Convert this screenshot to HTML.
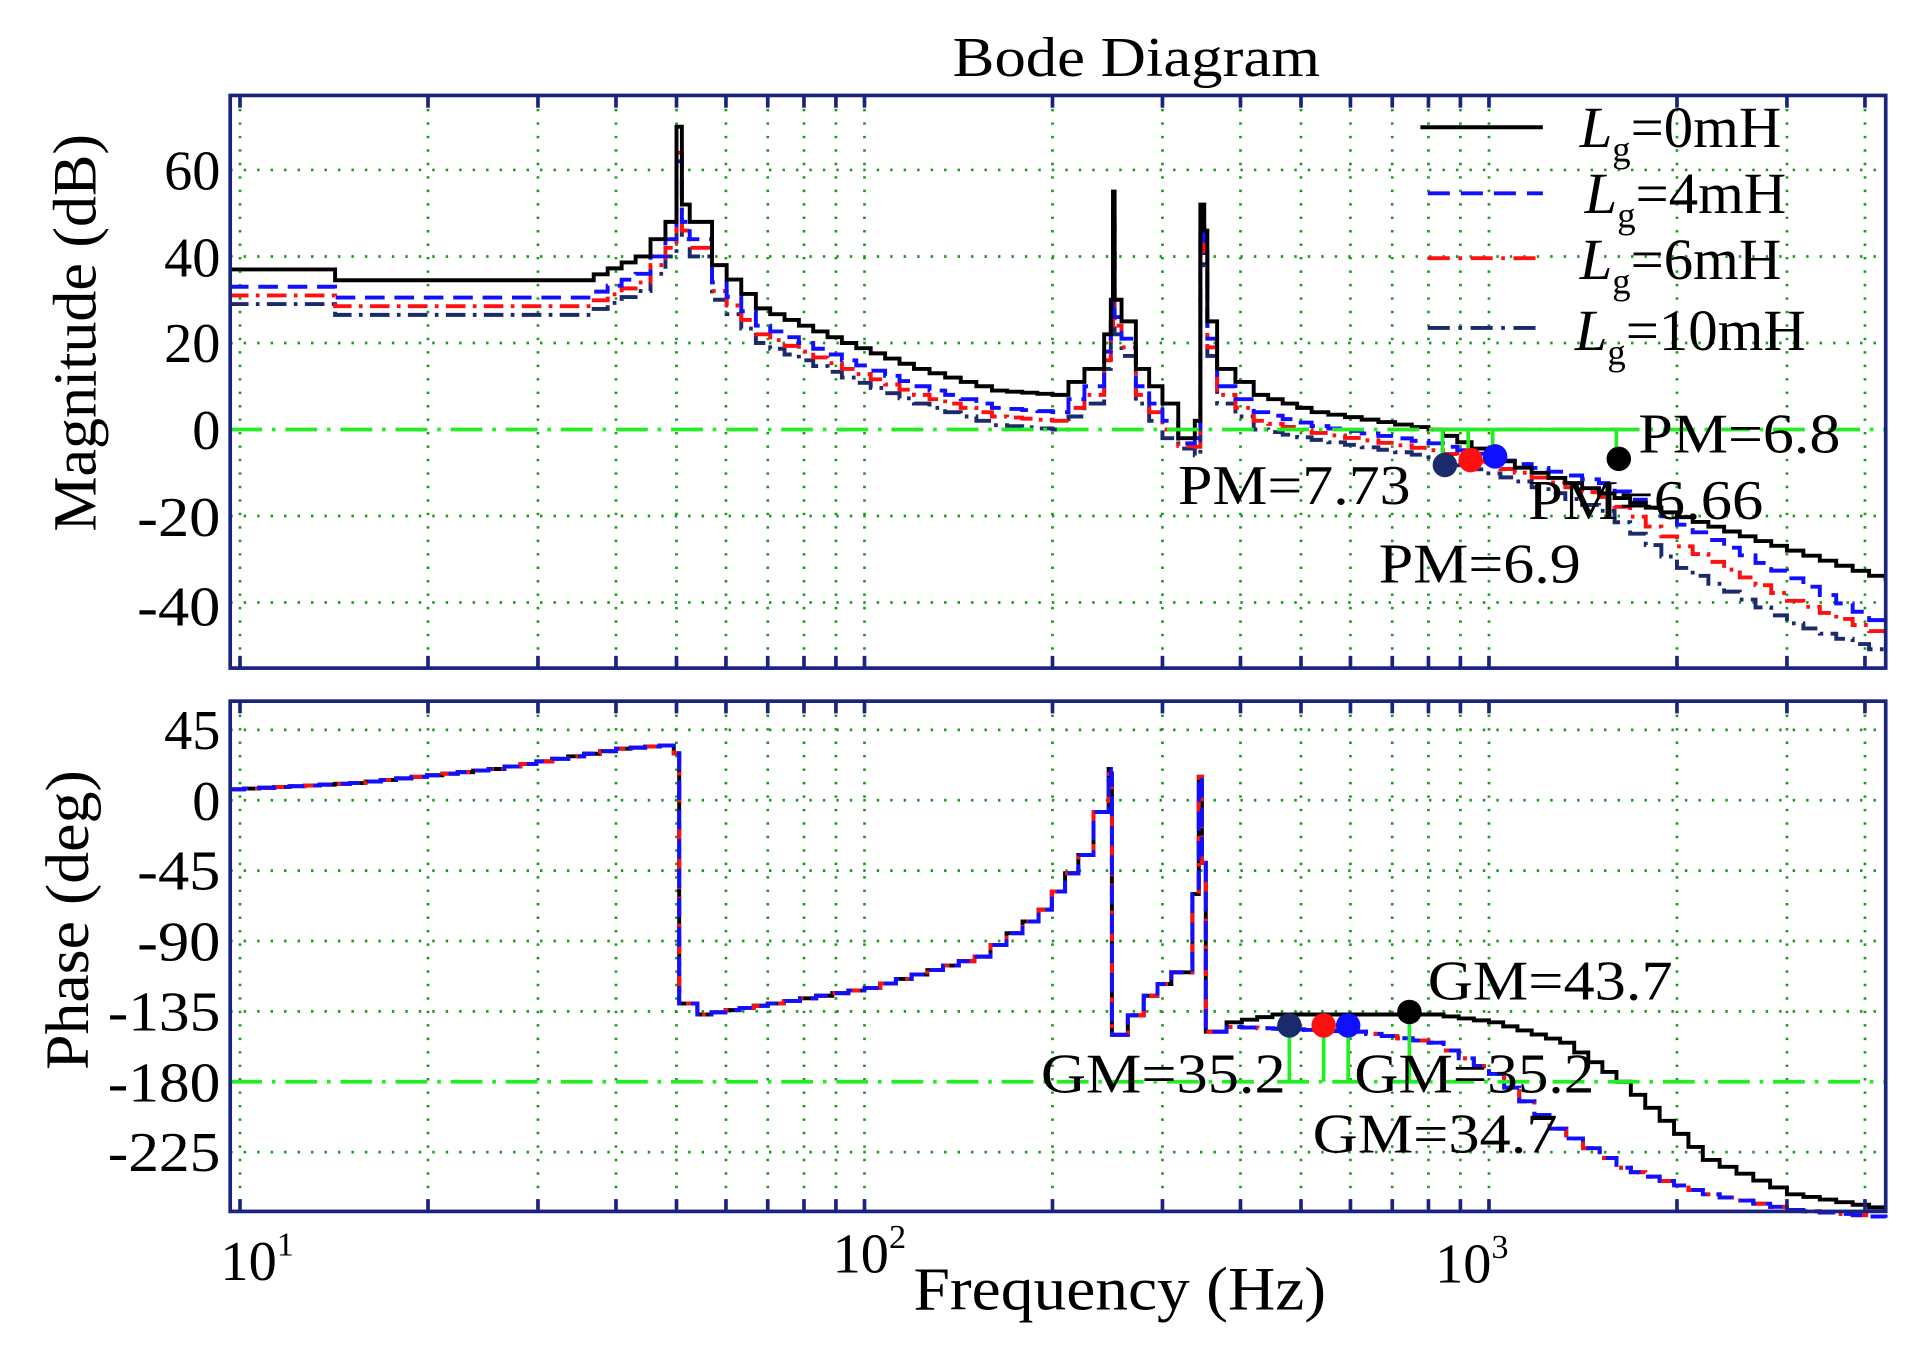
<!DOCTYPE html>
<html><head><meta charset="utf-8"><style>
html,body{margin:0;padding:0;background:#fff;}
svg{display:block;font-family:"Liberation Serif",serif;}
</style></head><body>
<svg id="s" width="1920" height="1346" viewBox="0 0 1568 1100" preserveAspectRatio="none" xmlns="http://www.w3.org/2000/svg">
<rect width="1568" height="1100" fill="#fff"/>
<g id="grid" stroke="#1a9a1a" stroke-width="2.2" stroke-dasharray="2,9"></g>
<g id="curves" fill="none" stroke-width="3.2"></g>
<g id="frame" fill="none" stroke="#1a237e" stroke-width="3"></g>
<text x="778" y="62" font-size="46" textLength="300" lengthAdjust="spacingAndGlyphs">Bode Diagram</text>
<g font-size="46" text-anchor="end">
<text x="180" y="155">60</text><text x="180" y="226">40</text><text x="180" y="296">20</text><text x="180" y="367">0</text><text x="180" y="438" textLength="68" lengthAdjust="spacingAndGlyphs">-20</text><text x="180" y="511" textLength="68" lengthAdjust="spacingAndGlyphs">-40</text>
<text x="180" y="612">45</text><text x="180" y="670">0</text><text x="180" y="727" textLength="68" lengthAdjust="spacingAndGlyphs">-45</text><text x="180" y="785" textLength="68" lengthAdjust="spacingAndGlyphs">-90</text><text x="180" y="842" textLength="92" lengthAdjust="spacingAndGlyphs">-135</text><text x="180" y="900" textLength="92" lengthAdjust="spacingAndGlyphs">-180</text><text x="180" y="957" textLength="92" lengthAdjust="spacingAndGlyphs">-225</text>
</g>
<g font-size="46">
<text x="180" y="1046">10<tspan font-size="28" dy="-20">1</tspan></text>
<text x="680" y="1040">10<tspan font-size="28" dy="-20">2</tspan></text>
<text x="1172" y="1048">10<tspan font-size="28" dy="-20">3</tspan></text>
<text x="746" y="1070" font-size="50" textLength="337" lengthAdjust="spacingAndGlyphs">Frequency  (Hz)</text>
<text transform="translate(78,272) rotate(-90)" text-anchor="middle" font-size="50" textLength="325" lengthAdjust="spacingAndGlyphs">Magnitude (dB)</text>
<text transform="translate(72,752) rotate(-90)" text-anchor="middle" font-size="50" textLength="245" lengthAdjust="spacingAndGlyphs">Phase (deg)</text>
<text x="962" y="412" textLength="190" lengthAdjust="spacingAndGlyphs">PM=7.73</text>
<text x="1338" y="370" textLength="165" lengthAdjust="spacingAndGlyphs">PM=6.8</text>
<text x="1248" y="424" textLength="192" lengthAdjust="spacingAndGlyphs">PM=6.66</text>
<text x="1126" y="476" textLength="165" lengthAdjust="spacingAndGlyphs">PM=6.9</text>
<text x="1166" y="817" textLength="200" lengthAdjust="spacingAndGlyphs">GM=43.7</text>
<text x="850" y="893" textLength="200" lengthAdjust="spacingAndGlyphs">GM=35.2</text>
<text x="1106" y="893" textLength="196" lengthAdjust="spacingAndGlyphs">GM=35.2</text>
<text x="1072" y="942" textLength="200" lengthAdjust="spacingAndGlyphs">GM=34.7</text>
</g>
<g font-size="48">
<text x="1290" y="120"><tspan font-style="italic">L</tspan><tspan font-size="30" dy="12">g</tspan><tspan dy="-12">=0mH</tspan></text>
<text x="1294" y="174"><tspan font-style="italic">L</tspan><tspan font-size="30" dy="12">g</tspan><tspan dy="-12">=4mH</tspan></text>
<text x="1290" y="228"><tspan font-style="italic">L</tspan><tspan font-size="30" dy="12">g</tspan><tspan dy="-12">=6mH</tspan></text>
<text x="1286" y="286"><tspan font-style="italic">L</tspan><tspan font-size="30" dy="12">g</tspan><tspan dy="-12">=10mH</tspan></text>
</g>
<g stroke-width="3.2">
<line x1="1160" y1="104" x2="1260" y2="104" stroke="#000"/>
<line x1="1166" y1="158" x2="1260" y2="158" stroke="#1010ff" stroke-dasharray="18,9"/>
<line x1="1166" y1="211" x2="1260" y2="211" stroke="#ff1010" stroke-dasharray="18,7,3,7"/>
<line x1="1166" y1="268" x2="1260" y2="268" stroke="#1a2a6a" stroke-dasharray="18,7,3,7"/>
</g>
</svg>
<script>
const NS="http://www.w3.org/2000/svg";
const X=f=>196+510*(Math.log10(f)-1);
const YM=d=>351-d*3.535;
const YP=p=>654-p*1.278;
const L=188,R=1540,T1=78,B1=546,T2=573,B2=990;
function el(p,t,a){const e=document.createElementNS(NS,t);for(const k in a)e.setAttribute(k,a[k]);p.appendChild(e);return e;}
const g=document.getElementById('grid');
const freqs=[];for(let d=1;d<=3;d++)for(let m=1;m<10;m++){const f=m*Math.pow(10,d);if(X(f)>L&&X(f)<R)freqs.push(f);}
freqs.forEach(f=>{el(g,'line',{x1:X(f),x2:X(f),y1:T1,y2:B1});el(g,'line',{x1:X(f),x2:X(f),y1:T2,y2:B2});});
[60,40,20,-20,-40].forEach(d=>el(g,'line',{x1:L,x2:R,y1:YM(d),y2:YM(d)}));
[45,0,-45,-90,-135,-225].forEach(d=>el(g,'line',{x1:L,x2:R,y1:YP(d),y2:YP(d)}));
const fr=document.getElementById('frame');
el(fr,'rect',{x:L,y:T1,width:R-L,height:B1-T1});el(fr,'rect',{x:L,y:T2,width:R-L,height:B2-T2});
freqs.forEach(f=>{[T1,T2].forEach(t=>el(fr,'line',{x1:X(f),x2:X(f),y1:t,y2:t+10}));[B1,B2].forEach(b=>el(fr,'line',{x1:X(f),x2:X(f),y1:b,y2:b-10}));});
const c=document.getElementById('curves');
function path(pts,Y,st){let d='';pts.forEach(([f,v],i)=>{const x=X(f),y=Y(v);if(i==0)d+='M'+x+' '+y;else{d+='H'+x+'V'+y;}});el(c,'path',Object.assign({d:d},st));}
function stair(pts){const out=[];for(let i=0;i<pts.length-1;i++){const [f0,v0]=pts[i],[f1,v1]=pts[i+1];const n=Math.max(1,Math.round(Math.log10(f1/f0)*40));for(let k=0;k<n;k++){out.push([f0*Math.pow(f1/f0,k/n),v0+(v1-v0)*k/n]);}}out.push(pts[pts.length-1]);return out;}
function mag(o,p,e){return [[9.6,37-o],[14,37-o],[14.2,34.5-o],[35,34.5-o],[43,40-o],[48,48-o],[50,p],[51,52-o],[52.5,48-o],[57,38-o],[67,28-o],[92,20-o],[120,14-o],[160,9-o],[200,8-o],[225,14-o],[242,22-o],[248,30-o],[250,55-o],[251.5,30-o],[258,25-o],[272,14-o],[300,6-o],[318,-2-o*0.3],[338,2-o],[345,52-o*1.2],[350,46-o],[354,25-o],[367,14-o],[420,8-o],[520,4-o*0.8],[800,0-o*0.8],[1100,-4-o],[1500,-6-o*1.6],[2000,-12-o*2.5],[3000,-24-o*2.6],[4315,e]];}
const series=[
 {s:{stroke:'#1a2a6a','stroke-dasharray':'16,6,3,6'},m:mag(8,50,-52)},
 {s:{stroke:'#ff1010','stroke-dasharray':'16,6,3,6'},m:mag(6,64,-48)},
 {s:{stroke:'#1010ff','stroke-dasharray':'16,8'},m:mag(4,62,-46)},
 {s:{stroke:'#000'},m:mag(0,70,-35)}];
series[3].m=series[3].m.map(([f,v])=>[f,f>900?Math.min(v,-5-(Math.log10(f/900)*44)):v]);
series[3].m[series[3].m.length-1][1]=-35;
function phase(k){const a=[[9.6,7],[15,11],[25,20],[40,33],[47,35],[49.5,30],[50.5,-130],[54,-137],[70,-130],[100,-120],[150,-100],[190,-70],[220,-35],[246,20],[248,17],[249,-150],[280,-125],[310,-110],[335,-60],[343,15],[347,-40],[352,-148]];
 if(k==3)return a.concat([[380,-142],[450,-137],[800,-137],[1000,-142],[1300,-155],[1600,-180],[2200,-230],[3000,-252],[4315,-262]]);
 return a.concat([[380,-145],[600,-148],[800,-155],[1000,-175],[1250,-210],[1600,-235],[2200,-252],[3000,-262],[4315,-267]]);}
series.forEach(s=>{path(stair(s.m),YM,Object.assign({fill:'none','stroke-width':3.2},s.s));});
[3,0,1,2].forEach(i=>{path(stair(phase(i)),YP,Object.assign({fill:'none','stroke-width':3.2},series[i].s));});
const gs={stroke:'#22ee22',fill:'none','stroke-width':3,'stroke-dasharray':'26,8,3,8'};
el(c,'line',Object.assign({x1:L,x2:R,y1:YM(0),y2:YM(0)},gs));
el(c,'line',Object.assign({x1:L,x2:R,y1:YP(-180),y2:YP(-180)},gs));
const gsol={stroke:'#22ee22','stroke-width':3};
[[1180,380],[1201,376],[1221,373],[1322,375]].forEach(([x,y])=>{el(c,'line',Object.assign({x1:x-2,x2:x-2,y1:y,y2:351},gsol));});
el(c,'line',Object.assign({x1:1170,x2:1322,y1:351,y2:351},gsol));
[[1053,838],[1081,838],[1101,838],[1151,827]].forEach(([x,y])=>{el(c,'line',Object.assign({x1:x,x2:x,y1:y,y2:884},gsol));});
[[1180,380,'#1a2a6a'],[1201,376,'#ff1010'],[1221,373,'#1010ff'],[1322,375,'#000'],[1053,838,'#1a2a6a'],[1081,838,'#ff1010'],[1101,838,'#1010ff'],[1151,827,'#000']].forEach(([x,y,col])=>el(c,'circle',{cx:x,cy:y,r:10,fill:col,stroke:'none'}));
</script>
</body></html>
